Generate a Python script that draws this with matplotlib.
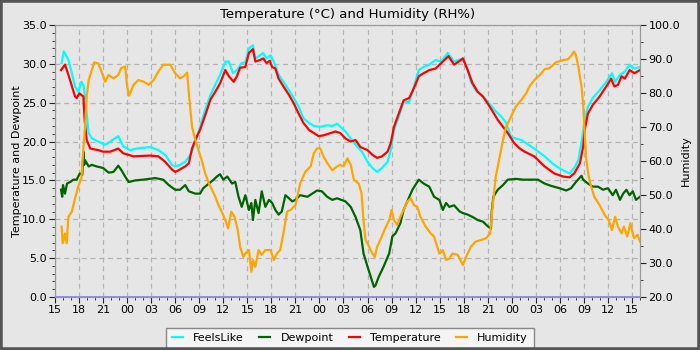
import matplotlib
matplotlib.use("Agg")
import matplotlib.pyplot as plt
from matplotlib.patches import Rectangle
from matplotlib.ticker import MultipleLocator, FormatStrFormatter, FixedLocator

# hours since 15:00 on the first day
feels_h = [0.83, 1.1, 1.67, 2.1, 2.5, 2.9, 3.3, 3.6, 3.9, 4.2, 4.6, 5.6, 6.25, 6.9, 7.9, 8.5, 9.4, 10.2, 11.9,
           12.9, 13.75, 14.6, 15.0, 15.6, 16.25, 16.9, 17.5, 18.1, 18.75, 19.4, 20.0, 20.6, 21.25, 21.7, 22.2, 22.7,
           23.3, 23.75, 24.2, 24.7, 25.0, 25.6, 25.96, 26.4, 26.9, 27.3, 27.9, 28.5, 29.2, 29.8, 30.4, 31.0, 31.7,
           32.3, 33.1, 33.96, 34.6, 35.2, 35.6, 36.25, 36.9, 37.5, 38.3, 39.0, 39.6, 40.2, 40.8, 41.5, 41.9, 42.3,
           42.9, 43.5, 44.2, 44.8, 45.4, 46.0, 46.7, 47.5, 48.2, 49.0, 49.8, 50.4, 50.9, 51.5, 51.9, 52.5, 53.4,
           54.2, 55.0, 55.7, 56.3, 56.9, 57.5, 58.2, 58.8, 59.8, 61.1, 62.3, 63.4, 64.2, 64.8, 65.3, 65.75, 66.1,
           66.5, 67.1, 67.96, 68.8, 69.5, 69.9, 70.5, 71.1, 71.7, 72.3, 73.0]
feels = [30.1, 31.6, 30.5, 28.8, 27.1, 26.4, 27.7, 27.1, 24.1, 21.1, 20.4, 19.9, 19.6, 20.0, 20.7, 19.4, 18.9, 19.1, 19.3,
         18.9, 18.3, 17.0, 16.8, 17.0, 17.4, 18.3, 19.8, 21.9, 24.1, 26.0, 27.3, 28.6, 30.3, 30.3, 28.8, 29.2,
         30.1, 30.2, 32.0, 32.4, 30.7, 31.1, 31.4, 30.7, 31.1, 30.3, 28.6, 27.7, 26.6, 25.6, 24.5, 23.0, 22.4,
         22.0, 21.9, 22.1, 22.0, 22.3, 21.9, 21.3, 20.4, 19.6, 18.7, 17.4, 16.6, 16.1, 16.6, 17.4, 18.9, 21.5,
         23.2, 25.1, 25.1, 27.1, 29.2, 29.6, 29.9, 30.5, 30.3, 31.4, 30.3, 30.5, 30.7, 29.2, 27.7, 26.6, 25.8,
         24.9, 23.9, 23.2, 22.4, 20.6, 20.4, 20.2, 19.8, 19.1, 18.1, 17.0, 16.3, 15.9, 16.6, 17.6, 20.2, 22.8,
         24.5, 25.6, 26.6, 27.7, 28.8, 27.7, 28.6, 29.0, 29.9, 29.4, 29.6]

temp_h = [0.75, 1.25, 1.67, 2.0, 2.5, 2.7, 3.04, 3.54, 3.7, 3.96, 4.4, 5.4, 6.0, 6.9, 7.9, 8.5, 9.8, 11.9,
          12.9, 13.75, 14.6, 15.0, 15.4, 16.25, 16.7, 17.1, 17.5, 18.1, 18.75, 19.4, 20.0, 20.6, 21.25, 21.7,
          22.3, 22.7, 23.1, 23.75, 24.2, 24.7, 25.0, 25.6, 26.0, 26.4, 26.8, 27.1, 27.5, 27.9, 28.5, 29.2, 29.8,
          30.4, 31.0, 31.7, 32.3, 32.9, 33.5, 34.4, 35.0, 35.6, 36.25, 36.9, 37.5, 38.1, 39.0, 39.6, 40.2, 40.8,
          41.5, 41.9, 42.3, 42.9, 43.5, 44.2, 44.8, 45.4, 46.0, 46.7, 47.5, 48.2, 49.1, 49.8, 50.4, 50.9, 51.5,
          52.1, 52.75, 53.4, 54.0, 54.6, 55.25, 55.9, 56.5, 57.3, 58.0, 58.6, 59.8, 61.1, 62.3, 63.4, 64.2, 64.8,
          65.5, 65.9, 66.1, 66.5, 67.1, 67.96, 68.8, 69.4, 69.8, 70.25, 70.7, 71.1, 71.7, 72.3, 73.0]
temp = [29.2, 29.9, 28.6, 27.5, 25.8, 25.6, 26.2, 25.8, 22.8, 20.2, 19.1, 18.9, 18.7, 18.7, 19.1, 18.5, 18.1, 18.2,
        18.1, 17.4, 16.4, 16.1, 16.3, 16.8, 17.2, 19.1, 20.2, 21.5, 23.4, 25.4, 26.4, 27.5, 29.2, 28.4,
        27.7, 28.4, 29.5, 29.6, 31.4, 31.9, 30.3, 30.5, 30.7, 30.1, 30.4, 29.6, 29.4, 28.1, 27.1, 26.0, 24.9,
        23.6, 22.4, 21.5, 21.1, 20.7, 20.8, 21.1, 21.3, 21.1, 20.4, 20.0, 20.2, 19.3, 18.9, 18.3, 17.9, 18.1,
        18.7, 19.8, 21.9, 23.6, 25.3, 25.6, 26.9, 28.4, 28.8, 29.2, 29.4, 30.1, 31.0, 29.9, 30.3, 30.7, 29.2,
        27.5, 26.4, 25.8, 24.9, 23.9, 22.8, 21.9, 21.1, 19.8, 19.1, 18.7, 18.1, 16.8, 15.9, 15.5, 15.4, 15.9,
        17.2, 19.3, 21.5, 23.6, 24.7, 25.8, 27.1, 28.1, 27.1, 27.3, 28.4, 28.1, 29.2, 28.8, 29.2]

dew_h = [0.75, 0.9, 1.0, 1.25, 1.5, 1.9, 2.3, 2.7, 3.1, 3.4, 3.55, 3.65, 3.75, 4.2, 4.6, 5.2, 6.0, 6.7, 7.3, 7.9, 8.3,
         8.75, 9.2, 10.0, 11.0, 12.5, 13.5, 14.2, 15.0, 15.6, 16.25, 16.7, 17.5, 18.1, 18.5, 19.2, 19.8, 20.2,
         20.6, 21.0, 21.5, 22.1, 22.5, 22.9, 23.3, 23.75, 24.2, 24.5, 24.7, 25.0, 25.4, 25.8, 26.25, 26.7, 27.1,
         27.5, 27.9, 28.3, 28.75, 29.2, 29.6, 30.0, 30.6, 31.5, 32.1, 32.7, 33.3, 33.96, 34.6, 35.2, 36.25, 36.9,
         37.5, 38.1, 38.5, 39.0, 39.4, 39.8, 40.0, 40.4, 41.0, 41.7, 42.1, 42.5, 43.1, 43.5, 43.96, 44.6, 45.4,
         46.0, 46.7, 47.3, 47.96, 48.4, 48.8, 49.2, 49.8, 50.5, 50.9, 51.5, 52.1, 52.75, 53.4, 54.0, 54.4, 54.5,
         54.7, 55.25, 55.9, 56.5, 57.5, 58.4, 59.2, 60.25, 61.1, 61.9, 62.96, 63.8, 64.4, 65.0, 65.7, 65.9, 66.5,
         67.1, 67.75, 68.4, 69.0, 69.6, 70.0, 70.5, 70.9, 71.3, 71.7, 72.1, 72.5, 73.0]
dew = [13.8, 12.9, 14.4, 13.3, 14.6, 14.8, 15.1, 15.1, 15.9, 15.7, 18.7, 17.0, 17.6, 16.8, 17.0, 16.8, 16.6, 16.0, 16.1, 16.9, 16.3,
       15.5, 14.8, 15.0, 15.1, 15.3, 15.1, 14.4, 13.8, 13.8, 14.4, 13.6, 13.3, 13.3, 14.0, 14.6, 15.1, 15.5,
       15.8, 15.1, 15.5, 14.6, 14.8, 12.9, 11.6, 13.1, 11.2, 12.1, 9.9, 12.5, 10.8, 13.6, 11.6, 12.5, 12.1,
       11.2, 10.6, 11.0, 13.1, 12.7, 12.3, 12.5, 13.1, 12.9, 13.3, 13.7, 13.6, 12.9, 12.5, 12.7, 12.3, 11.6,
       10.3, 8.6, 5.6, 3.9, 2.6, 1.3, 1.5, 2.6, 3.9, 5.6, 7.8, 8.2, 9.5, 11.2, 12.3, 13.8, 15.1,
       14.6, 14.2, 12.9, 12.5, 11.2, 12.1, 11.6, 11.8, 11.0, 10.8, 10.6, 10.3, 9.9, 9.7, 9.1, 8.8, 11.0,
       12.9, 13.8, 14.4, 15.1, 15.2, 15.1, 15.1, 15.1, 14.6, 14.3, 14.0, 13.7, 14.0, 14.8, 15.6, 15.1, 14.6,
       14.2, 14.2, 13.8, 14.0, 13.1, 13.8, 12.5, 13.3, 13.8, 13.1, 13.6, 12.5, 12.9]

hum_h = [0.83, 0.96, 1.25, 1.46, 1.67, 2.1, 2.5, 2.9, 3.3, 3.5, 3.75, 3.96, 4.2, 4.6, 4.9, 5.4, 5.8, 6.25, 6.7,
         7.3, 7.9, 8.25, 8.75, 9.0, 9.25, 9.8, 10.4, 11.0, 11.7, 12.3, 12.9, 13.5, 14.4, 15.0, 15.6, 16.0,
         16.5, 16.7, 17.1, 17.5, 17.9, 18.3, 18.75, 19.2, 19.6, 20.0, 20.4, 20.8, 21.25, 21.6, 22.0, 22.4, 22.8,
         23.1, 23.5, 23.75, 24.2, 24.5, 24.7, 25.0, 25.4, 25.8, 26.25, 26.9, 27.3, 27.7, 28.1, 28.5, 28.96, 29.4,
         30.0, 30.6, 31.25, 31.9, 32.3, 32.7, 33.1, 33.5, 34.0, 34.6, 35.2, 35.6, 36.0, 36.5, 36.9, 37.3, 37.9,
         38.25, 38.5, 38.75, 39.2, 39.6, 39.9, 40.2, 40.6, 41.2, 41.7, 42.0, 42.3, 42.7, 43.1, 43.5, 43.96, 44.4,
         44.8, 45.2, 45.6, 46.25, 46.9, 47.3, 47.96, 48.4, 48.8, 49.2, 49.6, 50.25, 50.9, 51.3, 51.9, 52.5, 53.2,
         53.8, 54.3, 54.6, 55.0, 55.5, 55.9, 56.3, 56.9, 57.5, 58.2, 58.8, 59.2, 59.8, 60.5, 61.1, 61.7, 62.5,
         63.4, 64.0, 64.4, 64.75, 65.0, 65.3, 65.7, 65.9, 66.1, 66.3, 66.6, 66.9, 67.3, 67.96, 68.6, 69.1, 69.5,
         69.9, 70.25, 70.7, 71.0, 71.4, 71.8, 72.25, 72.7, 73.0]
hum = [40.7, 35.8, 38.7, 35.8, 43.6, 45.1, 49.0, 52.5, 54.9, 62.3, 70.1, 78.9, 83.8, 86.8, 89.0, 88.7, 86.3, 83.3, 85.3,
       84.3, 85.3, 87.3, 87.8, 81.9, 79.2, 82.4, 83.8, 83.4, 82.4, 83.8, 86.3, 88.3, 88.3, 85.8, 84.3, 84.8,
       86.0, 79.9, 70.1, 66.2, 63.2, 60.3, 56.3, 53.4, 51.5, 49.5, 47.0, 45.1, 42.6, 40.2, 45.1, 43.6, 39.7,
       34.8, 31.8, 32.8, 33.8, 27.4, 30.9, 28.9, 33.8, 32.4, 33.8, 33.8, 30.9, 32.8, 33.8, 38.7, 45.1, 45.6,
       47.0, 53.4, 56.9, 58.4, 62.3, 63.7, 63.7, 61.3, 59.3, 57.3, 58.4, 58.9, 58.4, 60.8, 58.9, 54.4, 53.4,
       50.5, 42.6, 36.8, 34.8, 32.8, 31.8, 34.8, 36.8, 40.2, 42.6, 45.6, 42.6, 41.2, 43.6, 45.6, 48.1, 49.0,
       47.0, 46.5, 43.6, 40.7, 38.7, 37.8, 32.8, 33.8, 30.9, 31.3, 32.8, 32.4, 29.4, 31.8, 34.8, 36.3, 36.8,
       37.3, 38.7, 46.5, 55.4, 61.3, 66.2, 70.1, 73.0, 76.0, 78.0, 79.9, 81.9, 83.8, 85.3, 87.0, 87.3, 89.0,
       89.7, 89.9, 90.9, 92.2, 91.2, 87.8, 81.9, 76.9, 68.2, 60.3, 55.4, 52.5, 49.5, 47.0, 44.1, 42.6, 39.7,
       43.6, 40.7, 38.7, 40.7, 37.8, 41.7, 37.3, 38.3, 36.3]

# labels for every third hour starting at 15:00
hour_labels = ['15', '18', '21', '00', '03', '06', '09', '12'] * 3 + ['15']

bg = '#e6e6e6'
fig = plt.figure(figsize=(7, 3.5), dpi=100, facecolor=bg)
ax = fig.add_axes([55 / 700, 53 / 350, 585 / 700, 272 / 350])
ax.set_facecolor(bg)
ax2 = ax.twinx()

l1, = ax.plot(feels_h, feels, color='#00ffff', lw=1.6, label='FeelsLike')
l2, = ax.plot(dew_h, dew, color='#006400', lw=1.6, label='Dewpoint')
l3, = ax.plot(temp_h, temp, color='#ff0000', lw=1.6, label='Temperature')
l4, = ax2.plot(hum_h, hum, color='#ffa500', lw=1.6, label='Humidity')
ax.axhline(0, color='#8888dd', lw=2, zorder=5)

ax.set_xlim(0, 73)
ax.set_ylim(0, 35)
ax2.set_ylim(20, 100)

ax.xaxis.set_major_locator(FixedLocator(range(0, 73, 3)))
ax.set_xticklabels(hour_labels)
ax.xaxis.set_minor_locator(MultipleLocator(1))
ax.yaxis.set_major_locator(MultipleLocator(5))
ax.yaxis.set_minor_locator(MultipleLocator(1))
ax.yaxis.set_major_formatter(FormatStrFormatter('%.1f'))
ax2.yaxis.set_major_locator(MultipleLocator(10))
ax2.yaxis.set_minor_locator(MultipleLocator(5))
ax2.yaxis.set_major_formatter(FormatStrFormatter('%.1f'))

for a in (ax, ax2):
    a.tick_params(which='major', length=4, labelsize=8, color='#222222', pad=2)
    a.tick_params(which='minor', length=2, color='#222222')
    for s in a.spines.values():
        s.set_color('#999999')

ax.grid(True, which='major', color='#b4b4b4', ls=(0, (4, 3)), lw=0.9)
ax.set_axisbelow(True)

ax.set_ylabel('Temperature and Dewpoint', fontsize=8, labelpad=0)
ax2.set_ylabel('Humidity', fontsize=8, labelpad=1)
ax.set_title('Temperature (°C) and Humidity (RH%)', fontsize=9.5, pad=5)

leg = fig.legend(handles=[l1, l2, l3, l4], loc='lower center', bbox_to_anchor=(0.5, -0.012), ncol=4,
                 fontsize=8, handlelength=1.0, handletextpad=0.9, columnspacing=1.4,
                 fancybox=False, framealpha=1, borderpad=0.5)
leg.get_frame().set_facecolor('#f4f4f4')
leg.get_frame().set_edgecolor('#888888')

fig.patches.append(Rectangle((0, 0), 1, 1, transform=fig.transFigure, fill=False,
                             edgecolor='#555555', lw=4, zorder=10))

fig.savefig('out.png', dpi=100, facecolor=bg)
